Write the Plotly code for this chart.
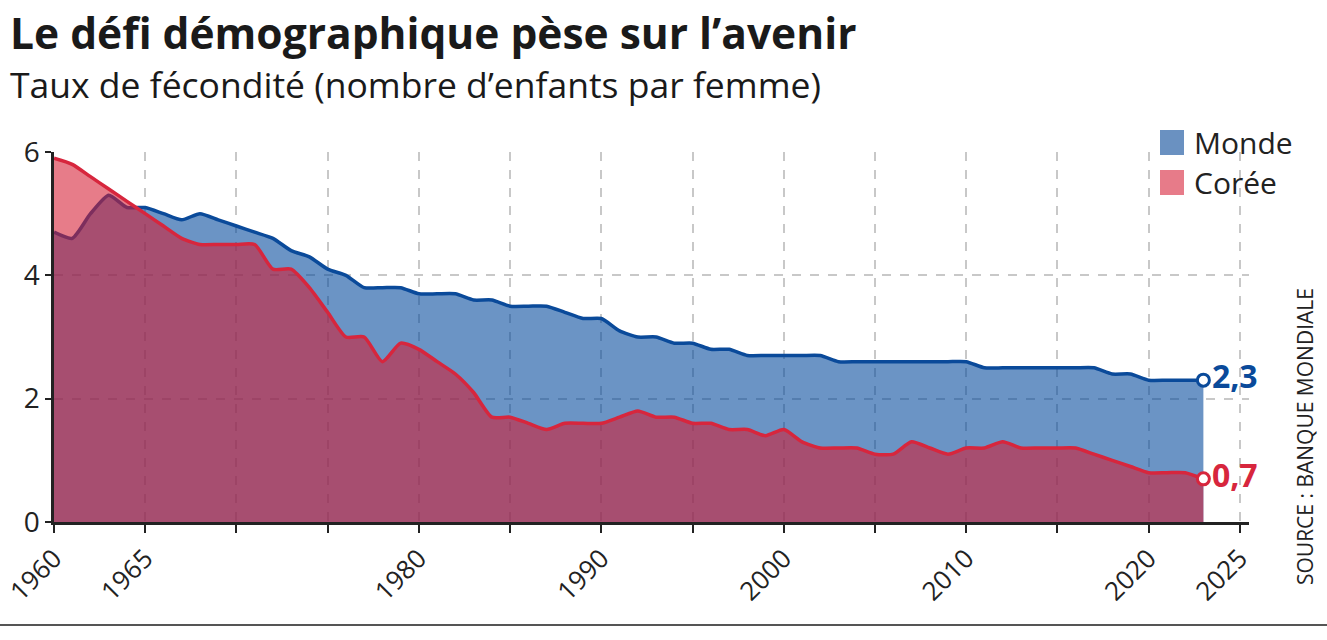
import plotly.graph_objects as go

years = list(range(1960, 2024))

monde = [4.7, 4.6, 5.0, 5.3, 5.1, 5.1, 5.0, 4.9, 5.0, 4.9,
         4.8, 4.7, 4.6, 4.4, 4.3, 4.1, 4.0, 3.8, 3.8, 3.8,
         3.7, 3.7, 3.7, 3.6, 3.6, 3.5, 3.5, 3.5, 3.4, 3.3,
         3.3, 3.1, 3.0, 3.0, 2.9, 2.9, 2.8, 2.8, 2.7, 2.7,
         2.7, 2.7, 2.7, 2.6, 2.6, 2.6, 2.6, 2.6, 2.6, 2.6,
         2.6, 2.5, 2.5, 2.5, 2.5, 2.5, 2.5, 2.5, 2.4, 2.4,
         2.3, 2.3, 2.3, 2.3]

coree = [5.9, 5.8, 5.6, 5.4, 5.2, 5.0, 4.8, 4.6, 4.5, 4.5,
         4.5, 4.5, 4.1, 4.1, 3.8, 3.4, 3.0, 3.0, 2.6, 2.9,
         2.8, 2.6, 2.4, 2.1, 1.7, 1.7, 1.6, 1.5, 1.6, 1.6,
         1.6, 1.7, 1.8, 1.7, 1.7, 1.6, 1.6, 1.5, 1.5, 1.4,
         1.5, 1.3, 1.2, 1.2, 1.2, 1.1, 1.1, 1.3, 1.2, 1.1,
         1.2, 1.2, 1.3, 1.2, 1.2, 1.2, 1.2, 1.1, 1.0, 0.9,
         0.8, 0.8, 0.8, 0.7]

tick_years = list(range(1960, 2030, 5))
tick_labels = ["1960", "1965", "", "", "1980", "", "1990", "", "2000", "", "2010", "", "2020", "2025"]
y_ticks = [0, 2, 4, 6]

BLUE = "#0a4a9a"
RED = "#d7263d"
BLUE_FILL = "rgba(0,71,155,0.58)"
RED_FILL = "rgba(213,24,48,0.57)"
FONT = "Open Sans"

# plot area in pixels (for placing paper-referenced decorations)
L, R, T, B = 54, 78, 152, 118
W, H = 1327, 640
PW, PH = W - L - R, H - T - B


def px(x):
    return (x - L) / PW


def py(y):
    return (H - B - y) / PH


fig = go.Figure()

fig.add_trace(go.Scatter(x=years, y=monde, mode="lines", fill="tozeroy",
                         fillcolor=BLUE_FILL, line=dict(color=BLUE, width=3.5, shape="spline", smoothing=0.6),
                         showlegend=False, hoverinfo="skip"))
fig.add_trace(go.Scatter(x=years, y=coree, mode="lines", fill="tozeroy",
                         fillcolor=RED_FILL, line=dict(color=RED, width=3.5, shape="spline", smoothing=0.6),
                         showlegend=False, hoverinfo="skip"))

# end markers
for series, col in ((monde, BLUE), (coree, RED)):
    fig.add_trace(go.Scatter(x=[years[-1]], y=[series[-1]], mode="markers+text",
                             marker=dict(size=12, color="white", line=dict(color=col, width=3)),
                             text=["<b>" + f"{series[-1]:.1f}".replace(".", ",") + "</b>"],
                             textposition="middle right",
                             textfont=dict(family=FONT, size=32, color=col),
                             showlegend=False, hoverinfo="skip", cliponaxis=False))

grid = dict(showgrid=True, gridcolor="#c8c8c8", griddash="dash", gridwidth=1.5)

fig.update_xaxes(range=[1960, 2025.5], tickmode="array", tickvals=tick_years, ticktext=tick_labels,
                 tickangle=-45, ticks="outside", ticklen=8, tickwidth=2, tickcolor="#222",
                 showline=True, linecolor="#222", linewidth=2.5, zeroline=False, automargin=False,
                 tickfont=dict(family=FONT, size=26, color="#222"), **grid)
fig.update_yaxes(range=[0, 6.0], tickmode="array", tickvals=y_ticks,
                 ticks="outside", ticklen=6, tickwidth=2, tickcolor="#222",
                 showline=True, linecolor="#222", linewidth=2.5, zeroline=False, automargin=False,
                 tickfont=dict(family=FONT, size=28, color="#222"), **grid)

# legend
legend_items = [("Monde", "#6a91c1", 130), ("Corée", "#e77b89", 170)]
for name, col, top in legend_items:
    fig.add_shape(type="rect", xref="paper", yref="paper",
                  x0=px(1160), x1=px(1184), y0=py(top + 25), y1=py(top),
                  fillcolor=col, line=dict(width=0))
    fig.add_annotation(xref="paper", yref="paper", x=px(1192), y=py(top + 12.5),
                       text=name, showarrow=False, xanchor="left", yanchor="middle",
                       font=dict(family=FONT, size=30, color="#222"))

# title, subtitle
fig.add_annotation(xref="paper", yref="paper", x=px(8), xanchor="left", y=py(33), yanchor="middle",
                   text="<b>Le défi démographique pèse sur l’avenir</b>", showarrow=False,
                   font=dict(family=FONT, size=42.5, color="#1a1a1a"))
fig.add_annotation(xref="paper", yref="paper", x=px(8), xanchor="left", y=py(84), yanchor="middle",
                   text="Taux de fécondité (nombre d’enfants par femme)", showarrow=False,
                   font=dict(family=FONT, size=35.5, color="#1a1a1a"))

# source
fig.add_annotation(xref="paper", yref="paper", x=px(1305), xanchor="center", y=py(437), yanchor="middle",
                   text="SOURCE : BANQUE MONDIALE", textangle=-90, showarrow=False,
                   font=dict(family=FONT, size=21, color="#222"))

# bottom rule
fig.add_shape(type="line", xref="paper", yref="paper", x0=px(0), x1=px(W), y0=py(625), y1=py(625),
              line=dict(color="#555", width=2))

fig.update_layout(width=W, height=H, margin=dict(l=L, r=R, t=T, b=B),
                  plot_bgcolor="white", paper_bgcolor="white", showlegend=False)

fig.write_html("out.html", config={"displayModeBar": False},
               post_script="document.body.style.margin='0';document.body.style.padding='0';")
